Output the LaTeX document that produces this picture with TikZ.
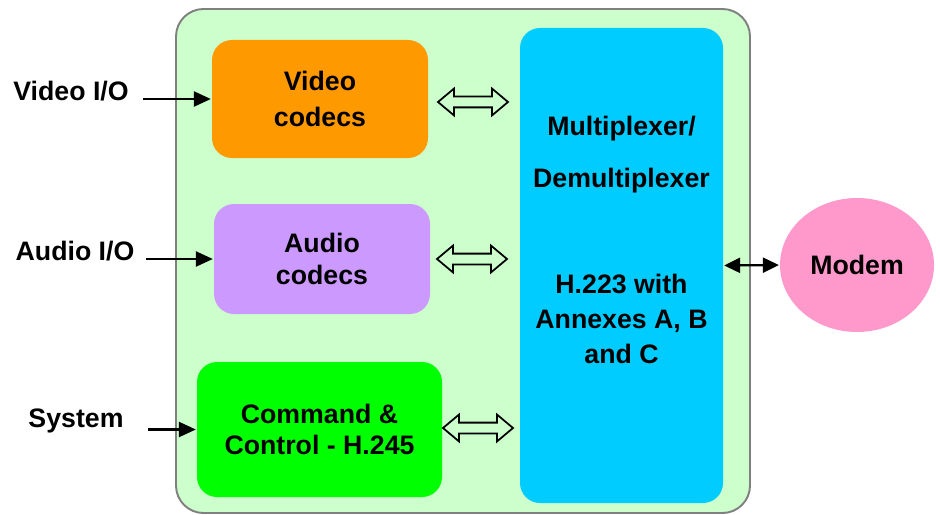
\documentclass[tikz,border=0pt]{standalone}
\usepackage{fontspec}
\setmainfont{Liberation Sans}
\usetikzlibrary{positioning,shapes.geometric,shapes.arrows,arrows.meta}
\definecolor{panelgreen}{HTML}{CCFFCC}
\definecolor{videoorange}{HTML}{FF9900}
\definecolor{audiopurple}{HTML}{CC99FF}
\definecolor{cmdgreen}{HTML}{00FF00}
\definecolor{muxcyan}{HTML}{00CCFF}
\definecolor{modempink}{HTML}{FF99CC}

\begin{document}
\begin{tikzpicture}[-{Triangle[length=0.34cm,width=0.3cm]}, line width=1.3pt,
            panel/.style ={rectangle, rounded corners=0.55cm, draw=gray, fill=panelgreen, line width=1.1pt, inner sep=0pt},
            block/.style ={rectangle, rounded corners=0.4cm, inner sep=0pt, align=center,
            font=\bfseries\fontsize{15.2}{18}\selectfont},
            io/.style ={font=\bfseries\fontsize{15.2}{18}\selectfont},
            link/.style ={double arrow, draw=black, line width=1pt, inner sep=0.09cm, minimum height=1.4cm,
            double arrow head extend=0.16cm, double arrow tip angle=80}]

        \useasboundingbox (0,0) rectangle (18.8,-10.28);

        %fondo verde
        \node[panel, minimum width=11.48cm, minimum height=10.08cm] (board) at (9.26, -5.22) {};

        \node[block, fill=videoorange, minimum width=4.32cm, minimum height=2.36cm,
              font=\bfseries\fontsize{15.2}{21}\selectfont] (video) at (6.40, -1.98) {Video\\codecs};
        \node[block, fill=audiopurple, minimum width=4.32cm, minimum height=2.2cm] (audio) at (6.44, -5.18) {Audio\\codecs};
        \node[block, fill=cmdgreen, minimum width=4.9cm, minimum height=2.7cm] (cmd) at (6.39, -8.59) {Command \&\\Control - H.245};
        \node[block, fill=muxcyan, minimum width=4.06cm, minimum height=9.5cm] (mux) at (12.43, -5.31) {};
        \node[block, font=\bfseries\fontsize{15.2}{20}\selectfont] (muxtext) at (12.43, -4.80)
              {Multiplexer/\\[9.5pt]Demultiplexer\\[40pt]H.223 with\\Annexes A, B\\and C};
        \node[ellipse, fill=modempink, inner sep=0pt, minimum width=3.08cm, minimum height=2.68cm, io] (modem) at (17.14, -5.30) {Modem};

        %entradas
        \node[io] (vidlbl) at (1.42, -1.82) {Video I/O};
        \node[io] (audlbl) at (1.50, -5.02) {Audio I/O};
        \node[io] (syslbl) at (1.52, -8.42) {System};
        \coordinate (vin) at (2.86, -1.98);
        \coordinate (ain) at (2.92, -5.18);
        \coordinate (sin) at (2.96, -8.59);

        \path (vin) edge (video.west);
        \path (ain) edge (audio.west);
        \path (sin) edge (cmd.west);

        %flechas dobles hacia el multiplexor
        \node[link] (v2m) at (9.46, -2.04) {};
        \node[link] (a2m) at (9.44, -5.18) {};
        \node[link] (c2m) at (9.56, -8.56) {};

        \path (mux.east) edge [{Triangle[length=0.32cm,width=0.3cm]}-{Triangle[length=0.32cm,width=0.3cm]}] (modem.west);
    \end{tikzpicture}
\end{document}
